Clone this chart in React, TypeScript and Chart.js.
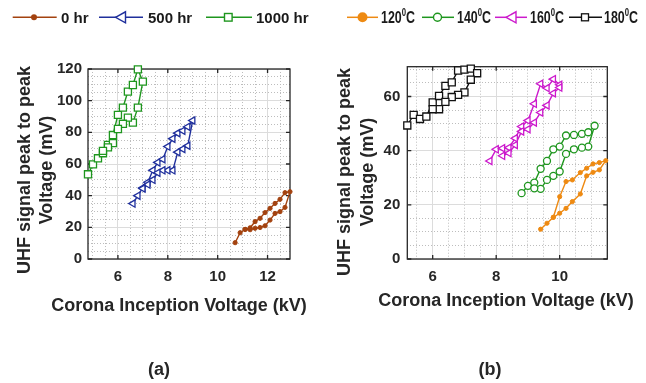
import React, { useEffect, useRef } from 'react';
import { Chart, registerables } from 'chart.js';

Chart.register(...registerables);

const TEXT = '#262626';
const FONT = '"Liberation Sans", Arial, Helvetica, sans-serif';
const GRID_MAJOR = '#dcdcdc';
const GRID_MINOR = '#bdbdbd';

// ---------- Panel (a): ageing time ----------
const hr0X = [10.7, 10.9, 11.1, 11.3, 11.5, 11.7, 11.9, 12.1, 12.3, 12.5, 12.7, 12.9, 12.7, 12.5, 12.3, 12.1, 11.9, 11.7, 11.5, 11.3, 11.1];
const hr0Y = [10.3, 16.6, 18.7, 19.7, 23.6, 25.7, 29.3, 32.0, 35.1, 37.7, 41.9, 42.5, 32.6, 29.9, 28.8, 24.6, 21.0, 19.9, 19.4, 18.5, 18.7];

const hr500X = [6.6, 6.8, 7.0, 7.2, 7.4, 7.6, 7.8, 8.0, 8.2, 8.4, 8.6, 8.8, 9.0, 8.8, 8.6, 8.4, 8.2, 8.0, 7.8, 7.6, 7.4, 7.2, 7.0];
const hr500Y = [35.0, 40.0, 45.0, 48.5, 56.0, 61.0, 63.0, 71.0, 76.0, 79.5, 81.0, 83.5, 87.5, 71.5, 69.5, 67.5, 56.0, 56.0, 56.0, 54.5, 50.0, 47.0, 44.5];

const hr1000X = [4.8, 5.0, 5.2, 5.4, 5.6, 5.8, 6.0, 6.2, 6.4, 6.6, 6.8, 7.0, 6.8, 6.6, 6.4, 6.2, 6.0, 5.8, 5.6, 5.4];
const hr1000Y = [53.5, 59.8, 63.6, 66.8, 72.0, 78.3, 91.0, 95.6, 105.7, 109.9, 119.8, 112.0, 95.6, 86.1, 89.3, 85.4, 82.1, 73.2, 70.5, 68.3];

// ---------- Panel (b): temperature ----------
const c120X = [9.4, 9.6, 9.8, 10.0, 10.2, 10.4, 10.65, 10.85, 11.05, 11.25, 11.45, 11.25, 11.05, 10.85, 10.65, 10.4, 10.2, 10.0, 9.8];
const c120Y = [11.0, 13.2, 15.4, 23.0, 28.6, 29.2, 31.9, 33.5, 35.1, 35.6, 36.3, 32.9, 32.0, 30.7, 24.0, 21.2, 18.7, 16.9, 15.4];

const c140X = [8.8, 9.0, 9.2, 9.4, 9.6, 9.8, 10.0, 10.2, 10.45, 10.7, 10.9, 11.1, 10.9, 10.7, 10.45, 10.2, 10.0, 9.8, 9.6, 9.4, 9.2];
const c140Y = [24.3, 27.0, 28.2, 33.3, 36.2, 40.5, 41.5, 45.6, 45.8, 46.2, 46.8, 49.2, 41.5, 41.1, 40.5, 38.8, 32.3, 30.7, 29.2, 25.9, 26.1];

const c160X = [7.8, 8.0, 8.2, 8.4, 8.6, 8.8, 9.0, 9.2, 9.4, 9.6, 9.8, 10.0, 10.0, 9.8, 9.6, 9.4, 9.2, 9.0, 8.8, 8.6, 8.4, 8.2];
const c160Y = [36.2, 40.5, 40.9, 41.1, 44.6, 48.9, 51.1, 57.3, 64.7, 63.1, 66.4, 64.3, 63.3, 61.2, 56.7, 54.1, 50.4, 47.9, 47.1, 42.1, 39.1, 38.1];

const c180X = [5.2, 5.4, 5.6, 5.8, 6.0, 6.2, 6.4, 6.6, 6.8, 7.0, 7.2, 7.4, 7.2, 7.0, 6.8, 6.6, 6.4, 6.2, 6.0];
const c180Y = [49.3, 53.2, 51.7, 52.6, 57.8, 60.2, 63.9, 65.2, 69.6, 69.9, 70.3, 68.6, 66.2, 61.5, 60.6, 59.8, 58.0, 55.3, 55.3];

// ---------- Tick labels ----------
const xTicksA = [6, 8, 10, 12];
const yTicksA = [0, 20, 40, 60, 80, 100, 120];
const xTicksB = [6, 8, 10];
const yTicksB = [0, 20, 40, 60];

const X_TITLE = 'Corona Inception Voltage (kV)';
const Y_TITLE = ['UHF signal peak to peak', 'Voltage (mV)'];

const COL = {
  brown: '#a3420f',
  blue: '#1f2f9c',
  green: '#1e961e',
  orange: '#ee8a12',
  magenta: '#cc1acc',
  black: '#111111',
};

function pts(xs: number[], ys: number[]) {
  return xs.map((x, i) => ({ x, y: ys[i] }));
}

const isMajor = (v: any, list: number[]) =>
  typeof v === 'number' && list.some((m) => Math.abs(m - v) < 1e-6);

function series(label: string, xs: number[], ys: number[], color: string, style: string, radius: number, hollow: boolean, rotation = 0) {
  return {
    label,
    data: pts(xs, ys),
    showLine: true,
    borderColor: color,
    backgroundColor: color,
    borderWidth: 1.4,
    pointStyle: style,
    pointRadius: radius,
    pointRotation: rotation,
    pointBorderColor: color,
    pointBackgroundColor: hollow ? '#ffffff' : color,
    pointBorderWidth: hollow ? 1.3 : 1,
    clip: false,
    tension: 0,
  };
}

function makeScales(xmin: number, xmax: number, ymax: number, xMajor: number[], yMajor: number[], yPad: number, yWidth: number, xHeight: number) {
  const tickFont = { family: FONT, size: 15, weight: 'bold' as const };
  return {
    x: {
      type: 'linear',
      position: 'bottom',
      min: xmin,
      max: xmax,
      afterFit: (s: any) => { s.height = xHeight; },
      grid: {
        drawTicks: false,
        lineWidth: 1,
        color: (c: any) => (isMajor(c.tick && c.tick.value, xMajor) ? GRID_MAJOR : GRID_MINOR),
      },
      border: {
        display: false,
        dash: (c: any) => (c.tick && !isMajor(c.tick.value, xMajor) ? [1, 2] : []),
      },
      ticks: {
        stepSize: 0.5,
        autoSkip: false,
        maxRotation: 0,
        minRotation: 0,
        includeBounds: false,
        padding: 9,
        color: TEXT,
        font: tickFont,
        callback: (v: any) => (isMajor(v, xMajor) ? String(v) : ''),
      },
    },
    y: {
      type: 'linear',
      position: 'left',
      min: 0,
      max: ymax,
      afterFit: (s: any) => { s.width = yWidth; },
      grid: {
        drawTicks: false,
        lineWidth: 1,
        color: (c: any) => (isMajor(c.tick && c.tick.value, yMajor) ? GRID_MAJOR : GRID_MINOR),
      },
      border: {
        display: false,
        dash: (c: any) => (c.tick && !isMajor(c.tick.value, yMajor) ? [1, 2] : []),
      },
      ticks: {
        stepSize: 5,
        autoSkip: false,
        includeBounds: false,
        padding: yPad,
        color: TEXT,
        font: tickFont,
        callback: (v: any) => (isMajor(v, yMajor) ? String(v) : ''),
      },
    },
  };
}

function framePlugin(cfg: {
  xMajor: number[]; yMajor: number[];
  y1x: number; y2x: number; ycy: number;
  xtx: number; xty: number;
  panel: string; px: number; py: number;
}) {
  return {
    id: 'frame',
    beforeDatasetsDraw(chart: any) {
      const { ctx, chartArea: a, scales } = chart;
      ctx.save();
      ctx.strokeStyle = TEXT;
      ctx.lineWidth = 1.3;
      ctx.setLineDash([]);
      ctx.strokeRect(a.left, a.top, a.right - a.left, a.bottom - a.top);
      const tl = 4;
      ctx.beginPath();
      cfg.xMajor.forEach((v) => {
        const p = scales.x.getPixelForValue(v);
        ctx.moveTo(p, a.bottom); ctx.lineTo(p, a.bottom - tl);
        ctx.moveTo(p, a.top); ctx.lineTo(p, a.top + tl);
      });
      cfg.yMajor.forEach((v) => {
        const p = scales.y.getPixelForValue(v);
        ctx.moveTo(a.left, p); ctx.lineTo(a.left + tl, p);
        ctx.moveTo(a.right, p); ctx.lineTo(a.right - tl, p);
      });
      ctx.stroke();
      ctx.restore();
    },
    afterDraw(chart: any) {
      const { ctx } = chart;
      ctx.save();
      ctx.fillStyle = TEXT;
      ctx.font = `bold 18px ${FONT}`;
      ctx.textAlign = 'center';
      ctx.textBaseline = 'alphabetic';
      ctx.fillText(X_TITLE, cfg.xtx, cfg.xty);
      ctx.fillText(cfg.panel, cfg.px, cfg.py);
      ctx.textBaseline = 'middle';
      ctx.save();
      ctx.translate(cfg.y1x, cfg.ycy);
      ctx.rotate(-Math.PI / 2);
      ctx.fillText(Y_TITLE[0], 0, 0);
      ctx.restore();
      ctx.save();
      ctx.translate(cfg.y2x, cfg.ycy);
      ctx.rotate(-Math.PI / 2);
      ctx.fillText(Y_TITLE[1], 0, 0);
      ctx.restore();
      ctx.restore();
    },
  };
}

function Panel(props: { left: number; width: number; build: () => any }) {
  const ref = useRef<HTMLCanvasElement | null>(null);
  useEffect(() => {
    if (!ref.current) return;
    const chart = new Chart(ref.current, props.build());
    return () => chart.destroy();
  }, []);
  return (
    <canvas
      ref={ref}
      width={props.width}
      height={383}
      style={{ position: 'absolute', left: props.left, top: 0, width: props.width, height: 383 }}
    />
  );
}

const baseOptions = (padding: any, scales: any) => ({
  responsive: false,
  animation: false,
  devicePixelRatio: 1,
  events: [],
  layout: { padding },
  plugins: { legend: { display: false }, tooltip: { enabled: false } },
  scales,
});

function buildA() {
  return {
    type: 'scatter',
    data: {
      datasets: [
        series('0 hr', hr0X, hr0Y, COL.brown, 'circle', 2.1, false),
        series('500 hr', hr500X, hr500Y, COL.blue, 'triangle', 4.2, true, -90),
        series('1000 hr', hr1000X, hr1000Y, COL.green, 'rect', 5, true),
      ],
    },
    options: baseOptions(
      { left: 0, top: 69, right: 40, bottom: 0 },
      makeScales(4.8, 12.9, 120, xTicksA, yTicksA, 6, 88, 124)
    ),
    plugins: [
      framePlugin({
        xMajor: xTicksA, yMajor: yTicksA,
        y1x: 25, y2x: 47, ycy: 170,
        xtx: 179, xty: 311,
        panel: '(a)', px: 159, py: 375,
      }),
    ],
  };
}

function buildB() {
  return {
    type: 'scatter',
    data: {
      datasets: [
        series('120°C', c120X, c120Y, COL.orange, 'circle', 2.1, false),
        series('140°C', c140X, c140Y, COL.green, 'circle', 3.5, true),
        series('160°C', c160X, c160Y, COL.magenta, 'triangle', 4.2, true, -90),
        series('180°C', c180X, c180Y, COL.black, 'rect', 5, true),
      ],
    },
    options: baseOptions(
      { left: 0, top: 66.7, right: 38.7, bottom: 0 },
      makeScales(5.2, 11.5, 71, xTicksB, yTicksB, 7, 77.3, 124)
    ),
    plugins: [
      framePlugin({
        xMajor: xTicksB, yMajor: yTicksB,
        y1x: 15, y2x: 38, ycy: 172,
        xtx: 176, xty: 306,
        panel: '(b)', px: 160, py: 375,
      }),
    ],
  };
}

const LY = 17.3;

function LegendLine(p: { x1: number; x2: number; color: string }) {
  return <line x1={p.x1} x2={p.x2} y1={LY} y2={LY} stroke={p.color} strokeWidth={1.5} />;
}

function LeftTri(p: { cx: number; color: string; w: number; h: number }) {
  const x0 = p.cx - p.w / 2;
  const x1 = p.cx + p.w / 2;
  return (
    <polygon
      points={`${x0},${LY} ${x1},${LY - p.h / 2} ${x1},${LY + p.h / 2}`}
      fill="#fff"
      stroke={p.color}
      strokeWidth={1.4}
    />
  );
}

function TempLabel(p: { x: number; t: string }) {
  return (
    <text x={p.x} y={LY + 5.8} fontFamily={FONT} fontWeight="bold" fontSize={16} fill="#1a1a1a"
      textLength={34} lengthAdjust="spacingAndGlyphs">
      {p.t}
      <tspan fontSize={10} dy={-7}>0</tspan>
      <tspan dy={7}>C</tspan>
    </text>
  );
}

function Legends() {
  const hrText = { fontFamily: FONT, fontWeight: 'bold', fontSize: 15, fill: '#1a1a1a' } as any;
  return (
    <svg width={646} height={40} style={{ position: 'absolute', left: 0, top: 0 }}>
      {/* panel (a) legend */}
      <LegendLine x1={12.7} x2={56.7} color={COL.brown} />
      <circle cx={34} cy={LY} r={3} fill={COL.brown} />
      <text x={61} y={LY + 5.4} {...hrText}>0 hr</text>

      <LegendLine x1={99} x2={143} color={COL.blue} />
      <LeftTri cx={120.5} color={COL.blue} w={10} h={11} />
      <text x={148} y={LY + 5.4} {...hrText}>500 hr</text>

      <LegendLine x1={206} x2={252} color={COL.green} />
      <rect x={224.5} y={LY - 3.8} width={7.6} height={7.6} fill="#fff" stroke={COL.green} strokeWidth={1.4} />
      <text x={256} y={LY + 5.4} {...hrText}>1000 hr</text>

      {/* panel (b) legend */}
      <LegendLine x1={347} x2={378} color={COL.orange} />
      <circle cx={362.5} cy={LY} r={5} fill={COL.orange} />
      <TempLabel x={381} t="120" />

      <LegendLine x1={422} x2={454} color={COL.green} />
      <circle cx={437.5} cy={LY} r={4} fill="#fff" stroke={COL.green} strokeWidth={1.4} />
      <TempLabel x={457} t="140" />

      <LegendLine x1={495} x2={527} color={COL.magenta} />
      <LeftTri cx={511} color={COL.magenta} w={10} h={11} />
      <TempLabel x={530} t="160" />

      <LegendLine x1={569} x2={602} color={COL.black} />
      <rect x={581.5} y={LY - 3.5} width={7} height={7} fill="#fff" stroke={COL.black} strokeWidth={1.3} />
      <TempLabel x={604} t="180" />
    </svg>
  );
}

export default function App() {
  return (
    <div style={{ position: 'relative', width: 646, height: 383, background: '#ffffff', overflow: 'hidden' }}>
      <style>{'body{margin:0;background:#fff;}'}</style>
      <Panel left={0} width={330} build={buildA} />
      <Panel left={330} width={316} build={buildB} />
      <Legends />
    </div>
  );
}
